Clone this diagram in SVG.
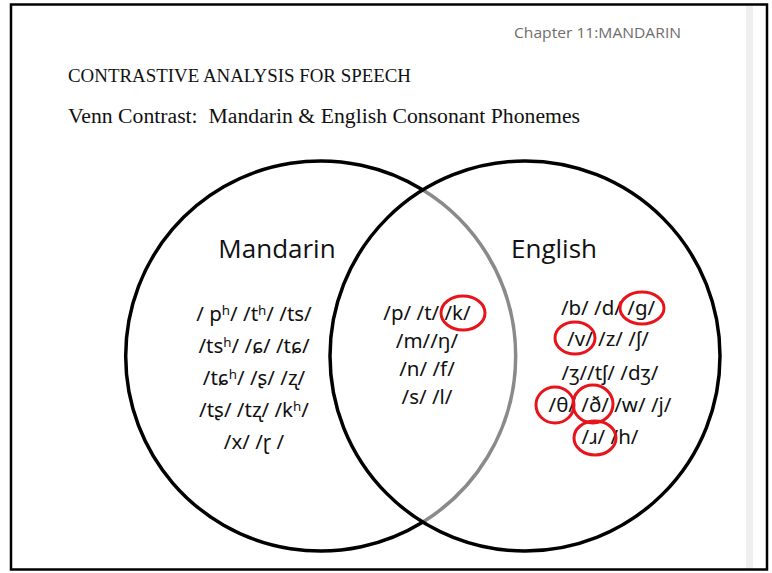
<svg xmlns="http://www.w3.org/2000/svg" width="772" height="573" viewBox="0 0 772 573">
<style>
.hdr{font-family:"Liberation Serif","Times New Roman",serif;fill:#111}
.lab{font-family:"Open Sans","Noto Sans","DejaVu Sans",sans-serif;font-size:26px;fill:#111;text-anchor:middle}
.ph{font-family:"Noto Sans","DejaVu Sans",sans-serif;font-size:20.5px;fill:#111;text-anchor:middle}
.ring{fill:none;stroke:#000;stroke-width:3.5}
.mark{fill:none;stroke:#e8141b;stroke-width:3}
</style>
<rect x="0" y="0" width="772" height="573" fill="#fff"/>
<rect x="746" y="6" width="7" height="563" fill="#efefef"/>
<rect x="11" y="4.5" width="756" height="565" fill="none" stroke="#000" stroke-width="2.5"/>
<text x="514" y="38" font-family="Open Sans, Noto Sans, sans-serif" font-size="15" fill="#6e6e6e" textLength="167" lengthAdjust="spacingAndGlyphs">Chapter 11:MANDARIN</text>
<text class="hdr" x="68" y="82" font-size="19.5" textLength="343" lengthAdjust="spacingAndGlyphs">CONTRASTIVE ANALYSIS FOR SPEECH</text>
<text class="hdr" x="68" y="123" font-size="20" textLength="512" lengthAdjust="spacingAndGlyphs" xml:space="preserve">Venn Contrast:  Mandarin &amp; English Consonant Phonemes</text>
<g id="connectors">
<path class="ring" d="M423 190 A195 195 0 1 0 423 522"/>
<path d="M423 190 A195 195 0 0 1 423 522" fill="none" stroke="#8a8a8a" stroke-width="3.5"/>
<circle class="ring" cx="525" cy="356" r="195"/>
</g>
<g id="mandarin">
<text class="lab" x="277" y="258">Mandarin</text>
<text class="ph" x="254" y="321">/ pʰ/ /tʰ/ /ts/</text>
<text class="ph" x="254" y="353">/tsʰ/ /ɕ/ /tɕ/</text>
<text class="ph" x="254" y="385">/tɕʰ/ /ʂ/ /ʐ/</text>
<text class="ph" x="254" y="417">/tʂ/ /tʐ/ /kʰ/</text>
<text class="ph" x="254" y="449">/x/ /ɽ /</text>
</g>
<g id="shared">
<text class="ph" x="427" y="320">/p/ /t/ /k/</text>
<text class="ph" x="427" y="348">/m//ŋ/</text>
<text class="ph" x="427" y="376">/n/ /f/</text>
<text class="ph" x="427" y="404">/s/ /l/</text>
<ellipse class="mark" cx="463" cy="313" rx="22" ry="17"/>
</g>
<g id="english">
<text class="lab" x="554" y="258">English</text>
<text class="ph" x="608" y="315">/b/ /d/ /g/</text>
<text class="ph" x="608" y="346">/v/ /z/ /ʃ/</text>
<text class="ph" x="610" y="380">/ʒ//tʃ/ /dʒ/</text>
<text class="ph" x="610" y="412">/θ/ /ð/ /w/ /j/</text>
<text class="ph" x="610" y="444">/ɹ/ /h/</text>
<ellipse class="mark" cx="642" cy="308" rx="22" ry="16"/>
<ellipse class="mark" cx="575" cy="338" rx="20" ry="16"/>
<ellipse class="mark" cx="555" cy="405" rx="19" ry="18"/>
<ellipse class="mark" cx="593" cy="404" rx="20" ry="19"/>
<ellipse class="mark" cx="595" cy="438" rx="21" ry="17"/>
</g>
</svg>
